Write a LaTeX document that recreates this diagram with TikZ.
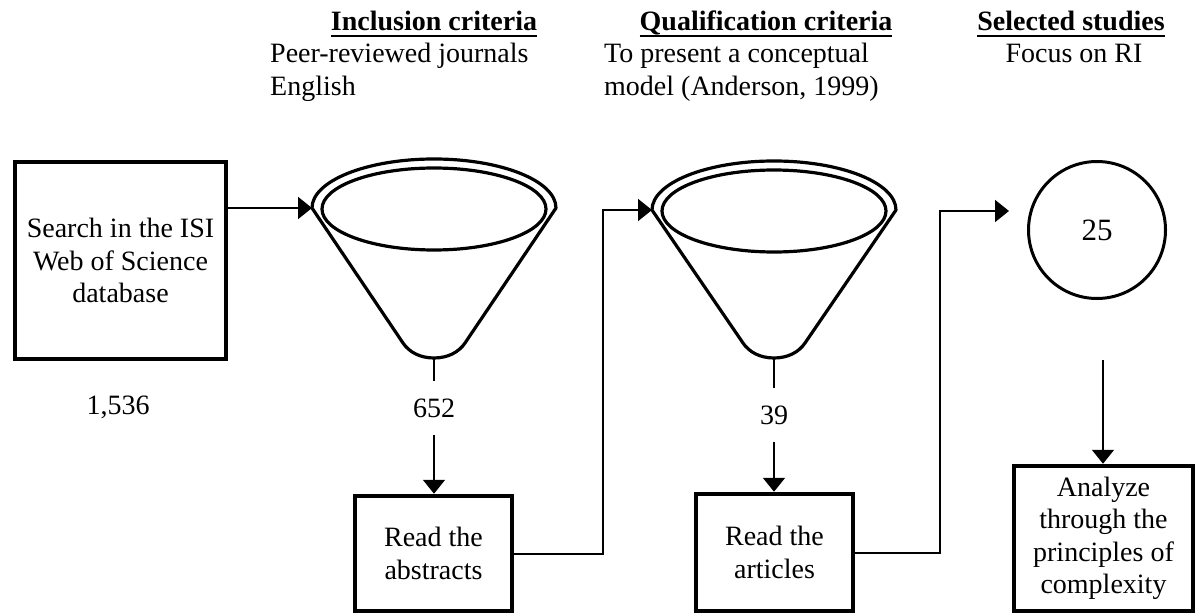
\documentclass[tikz,border=0pt]{standalone}
\usepackage{fontspec}
\setmainfont{Liberation Serif}
\usetikzlibrary{arrows.meta,calc}
\newcommand\hdrul[1]{\setbox0\hbox{\bfseries #1}\rlap{\rule[-6.5pt]{\wd0}{2.2pt}}\box0}
\newcommand\funnelshape[2]{%
  \draw[funnel] ({#1-122},#2) arc[start angle=180,end angle=0,x radius=122pt,y radius=49pt]
    -- ({#1+31},343) .. controls ({#1+25},352) and ({#1+14},358) .. (#1,358)
    .. controls ({#1-14},358) and ({#1-25},352) .. ({#1-31},343) -- cycle;
  \draw[funnel] (#1,{#2+1}) ellipse[x radius=112pt,y radius=41pt];
}
\begin{document}
\begin{tikzpicture}[x=1pt,y=-1pt,
  every node/.style={font=\fontsize{28}{32.5}\selectfont},
  box/.style={draw,line width=4.5pt,inner sep=0pt,align=center},
  conn/.style={line width=2pt},
  arr/.style={line width=2pt,-{Triangle[length=14pt,width=22pt]}},
  funnel/.style={line width=3.2pt,line join=round},
  num/.style={inner sep=0pt,minimum height=54pt},
  txt/.style={inner sep=0pt,anchor=base west},
]
\useasboundingbox (0,0) rectangle (1197,615);

% headers
\node[txt,anchor=base] (h1) at (434,31) {\hdrul{Inclusion criteria}};
\node[txt] (c1a) at (270,63) {Peer-reviewed journals};
\node[txt] (c1b) at (270,96) {English};
\node[txt,anchor=base] (h2) at (766,31) {\hdrul{Qualification criteria}};
\node[txt] (c2a) at (604,63) {To present a conceptual};
\node[txt] (c2b) at (604,96) {model (Anderson, 1999)};
\node[txt,anchor=base] (h3) at (1071,31) {\hdrul{Selected studies}};
\node[txt,anchor=base] (c3a) at (1074,63) {Focus on RI};

% boxes
\node[box,minimum width=211pt,minimum height=197pt] (search) at (120.5,260.5) {Search in the ISI\\Web of Science\\database};
\node[box,minimum width=157pt,minimum height=115pt] (box2) at (433.5,553.5) {Read the\\abstracts};
\node[box,minimum width=157pt,minimum height=117pt] (box3) at (774.5,552.5) {Read the\\articles};
\node[box,minimum width=179pt,minimum height=145pt] (box4) at (1103.5,538.5) {Analyze\\through the\\principles of\\complexity};

% funnels
\funnelshape{434}{208}
\coordinate (f1in) at (312,208);
\coordinate (f1out) at (434,358);
\funnelshape{774}{210}
\coordinate (f2in) at (652,210);
\coordinate (f2out) at (774,358);

% result circle
\node[draw,circle,line width=3pt,minimum size=137pt,inner sep=0pt,font=\fontsize{31}{36}\selectfont] (res) at (1097,230) {25};
\coordinate (c25in) at (1009,211);
\coordinate (c25out) at (1103,360);

% numbers
\node[num] (n1536) at (118,407) {1,536};
\node[num] (n652) at (434,408) {652};
\node[num] (n39) at (774,415) {39};

% connectors
\draw[arr] (search.east |- f1in) -- (f1in);
\draw[conn] (f1out) -- (n652.north);
\draw[arr] (n652.south) -- (n652.south |- box2.north);
\draw[arr] (box2.east) -- ++(89,0) |- (f2in);
\draw[conn] (f2out) -- (n39.north);
\draw[arr] (n39.south) -- (n39.south |- box3.north);
\draw[arr] (box3.east) -- ++(85,0) |- (c25in);
\draw[arr] (c25out) -- (c25out |- box4.north);
\end{tikzpicture}
\end{document}
